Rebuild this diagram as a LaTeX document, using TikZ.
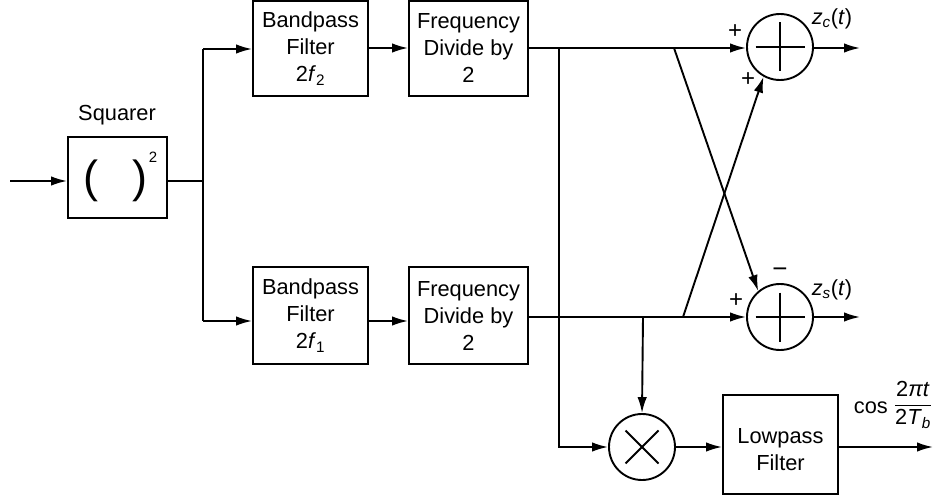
\documentclass[tikz,border=0pt]{standalone}
\usepackage{fontspec}
\setmainfont{Liberation Sans}
\usetikzlibrary{arrows.meta}
\begin{document}
\begin{tikzpicture}[x=1pt,y=-1pt,
  lw/.style={line width=1.9pt},
  arr/.style={lw,-{Latex[length=16pt,width=9.5pt]}},
  txt/.style={inner sep=0pt,font=\fontsize{21.8}{27}\selectfont,align=center},
  blk/.style={draw,lw,rectangle,inner sep=0pt,align=center,font=\fontsize{21.8}{27}\selectfont},
  sgn/.style={inner sep=0pt,font=\fontsize{24}{24}\selectfont},
  circ/.style={draw,lw,circle,minimum size=66pt,inner sep=0pt}
]
\useasboundingbox (0,0) rectangle (934,500);

% blocks
\node[blk,minimum width=99pt,minimum height=81pt] (sq) at (117.5,177.5) {};
\node[txt] (sqlab) at (117,115) {Squarer};
\node[inner sep=0pt,font=\fontsize{45}{45}\selectfont] (pl) at (91,181) {(};
\node[inner sep=0pt,font=\fontsize{45}{45}\selectfont] (pr) at (140,181) {)};
\node[inner sep=0pt,font=\fontsize{15}{15}\selectfont] (p2) at (153,157) {2};

\node[blk,minimum width=115pt,minimum height=95pt] (bp2) at (310.5,48.5) {Bandpass\\Filter\\2\textit{f}\textsubscript{2}};
\node[blk,minimum width=119pt,minimum height=95pt] (fd2) at (468.5,48.5) {Frequency\\Divide by\\2};
\node[blk,minimum width=115pt,minimum height=97pt] (bp1) at (310.5,315.5) {Bandpass\\Filter\\2\textit{f}\textsubscript{1}};
\node[blk,minimum width=119pt,minimum height=97pt] (fd1) at (468.5,315.5) {Frequency\\Divide by\\2};
\node[draw,lw,rectangle,minimum width=115pt,minimum height=99pt] (lpf) at (780.5,444.5) {};
\node[txt] (lpft) at (780.5,449.5) {Lowpass\\Filter};

\node[circ] (s1) at (780,47) {};
\node[circ] (s2) at (780,317) {};
\node[circ] (m) at (642,447) {};
\draw[lw] (s1.center) ++(-24.5,0) -- ++(49,0);
\draw[lw] (s1.center) ++(0,-24.5) -- ++(0,49);
\draw[lw] (s2.center) ++(-24.5,0) -- ++(49,0);
\draw[lw] (s2.center) ++(0,-24.5) -- ++(0,49);
\draw[lw] (m.center) ++(-16.5,-16.5) -- ++(33,33);
\draw[lw] (m.center) ++(-16.5,16.5) -- ++(33,-33);

% coordinates
\coordinate (in) at (10,181);
\coordinate (sp) at (203,181);
\coordinate (spt) at (203,49);
\coordinate (spb) at (203,321);
\coordinate (j1) at (559,48);
\coordinate (c1) at (674,48);
\coordinate (j2) at (643,317);
\coordinate (c2) at (683,317);
\coordinate (j3) at (559,447);
\coordinate (o1) at (860,48);
\coordinate (o2) at (860,317);
\coordinate (o3) at (933,447);

% connectors
\draw[arr] (in) -- (sq.west |- in);
\draw[lw] (sq.east |- sp) -- (sp);
\draw[lw] (spt) -- (spb);
\draw[arr] (spt) -- (bp2.west |- spt);
\draw[arr] (spb) -- (bp1.west |- spb);
\draw[arr] (bp2.east |- 0,48) -- (fd2.west |- 0,48);
\draw[arr] (bp1.east |- spb) -- (fd1.west |- spb);
\draw[arr] (fd2.east |- j1) -- (s1.west |- j1);
\draw[arr] (fd1.east |- j2) -- (s2.west |- j2);
\draw[arr] (s1.east |- o1) -- (o1);
\draw[arr] (s2.east |- o2) -- (o2);
\draw[arr] (c1) -- (s2.130);
\draw[arr] (c2) -- (s1.241);
\draw[arr] (j1) -- (j3) -- (m.west);
\draw[arr] (j2) -- (m.north);
\draw[arr] (m.east) -- (lpf.west |- m.east);
\draw[arr] (lpf.east |- o3) -- (o3);

% labels
\node[txt] (zc) at (832,19) {\textit{z}\textsubscript{\textit{c}}(\textit{t})};
\node[txt] (zs) at (832,290) {\textit{z}\textsubscript{\textit{s}}(\textit{t})};
\node[sgn] (pa) at (735,32) {+};
\node[sgn] (pb) at (748,80) {+};
\node[sgn] (pc) at (736,301) {+};
\node[inner sep=0pt,font=\fontsize{26}{26}\selectfont] (mn) at (780,273) {−};
\node[txt,anchor=east] (cos) at (888,408) {cos};
\node[inner sep=0pt,font=\fontsize{21.8}{27}\selectfont] (frac) at (913,405)
  {$\displaystyle\frac{\mbox{2\textit{πt}}\vphantom{T}}{\mbox{2\textit{T}\textsubscript{\textit{b}}}}$};
\end{tikzpicture}
\end{document}
